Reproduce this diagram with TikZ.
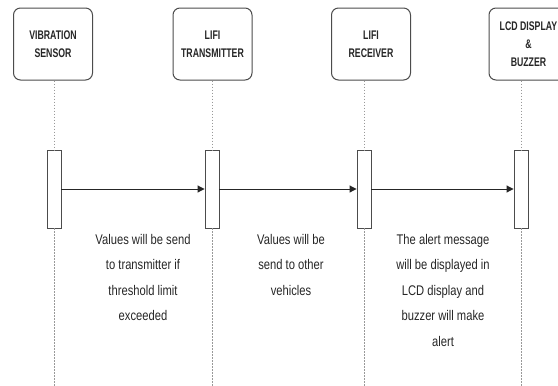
\documentclass[tikz,border=0pt]{standalone}
\usepackage{fontspec}
\setmainfont{Liberation Sans}
\newfontfamily\boxfont[FakeStretch=0.7]{Liberation Sans}
\newfontfamily\notefont[FakeStretch=0.8]{Liberation Sans}
\usetikzlibrary{arrows.meta}

\begin{document}
\begin{tikzpicture}[x=1pt,y=1pt,yscale=-1,xscale=1,
  actor/.style={draw=black!70,line width=1,rounded corners=7,fill=white,
    minimum width=79,minimum height=72,inner sep=0,align=center,
    text=black!85,font=\boxfont\bfseries\fontsize{12.5}{18}\selectfont},
  actbar/.style={draw=black!70,line width=0.9,fill=white,minimum width=14,
    minimum height=78,inner sep=0},
  lifeline/.style={draw=black!40,line width=0.8,dash pattern=on 1.5pt off 1.5pt},
  msg/.style={draw=black!85,line width=1,-{Triangle[length=7pt,width=7pt]}},
  note/.style={anchor=north,inner sep=0,align=center,text=black!85,
    font=\notefont\fontsize{14}{25.5}\selectfont}]
\clip (0,0) rectangle (558,386); %set diagram to 558 x 386

%Shape: Rounded Rect [id:actors]
\node [actor] (vib) at (53,44) {VIBRATION\\SENSOR};
\node [actor] (tx) at (212.5,44) {LIFI\\TRANSMITTER};
\node [actor] (rx) at (371,44) {LIFI\\RECEIVER};
\node [actor] (lcd) at (528.5,44) {LCD DISPLAY\\\&\\BUZZER};

%Shape: Rectangle [id:activation bars]
\node [actbar] (bar1) at (54,189) {};
\node [actbar] (bar2) at (212,189) {};
\node [actbar] (bar3) at (364,189) {};
\node [actbar] (bar4) at (521,189) {};

%Lifelines
\coordinate (end1) at (54,386);
\coordinate (end2) at (212,386);
\coordinate (end3) at (364,386);
\coordinate (end4) at (521,386);
\draw [lifeline] (vib.south -| bar1) -- (bar1.north);
\draw [lifeline] (tx.south -| bar2) -- (bar2.north);
\draw [lifeline] (rx.south -| bar3) -- (bar3.north);
\draw [lifeline] (lcd.south -| bar4) -- (bar4.north);
\draw [lifeline] (bar1.south) -- (end1);
\draw [lifeline] (bar2.south) -- (end2);
\draw [lifeline] (bar3.south) -- (end3);
\draw [lifeline] (bar4.south) -- (end4);

%Straight Lines [id:messages]
\draw [msg] (bar1.east) -- (bar2.west);
\draw [msg] (bar2.east) -- (bar3.west);
\draw [msg] (bar3.east) -- (bar4.west);

% Text Node
\node [note] (send) at (143,234) {Values will be send\\to transmitter if\\threshold limit\\exceeded};
% Text Node
\node [note] (relay) at (291,234) {Values will be\\send to other\\vehicles};
% Text Node
\node [note] (alert) at (443,234) {The alert message\\will be displayed in\\LCD display and\\buzzer will make\\alert};
\end{tikzpicture}
\end{document}
